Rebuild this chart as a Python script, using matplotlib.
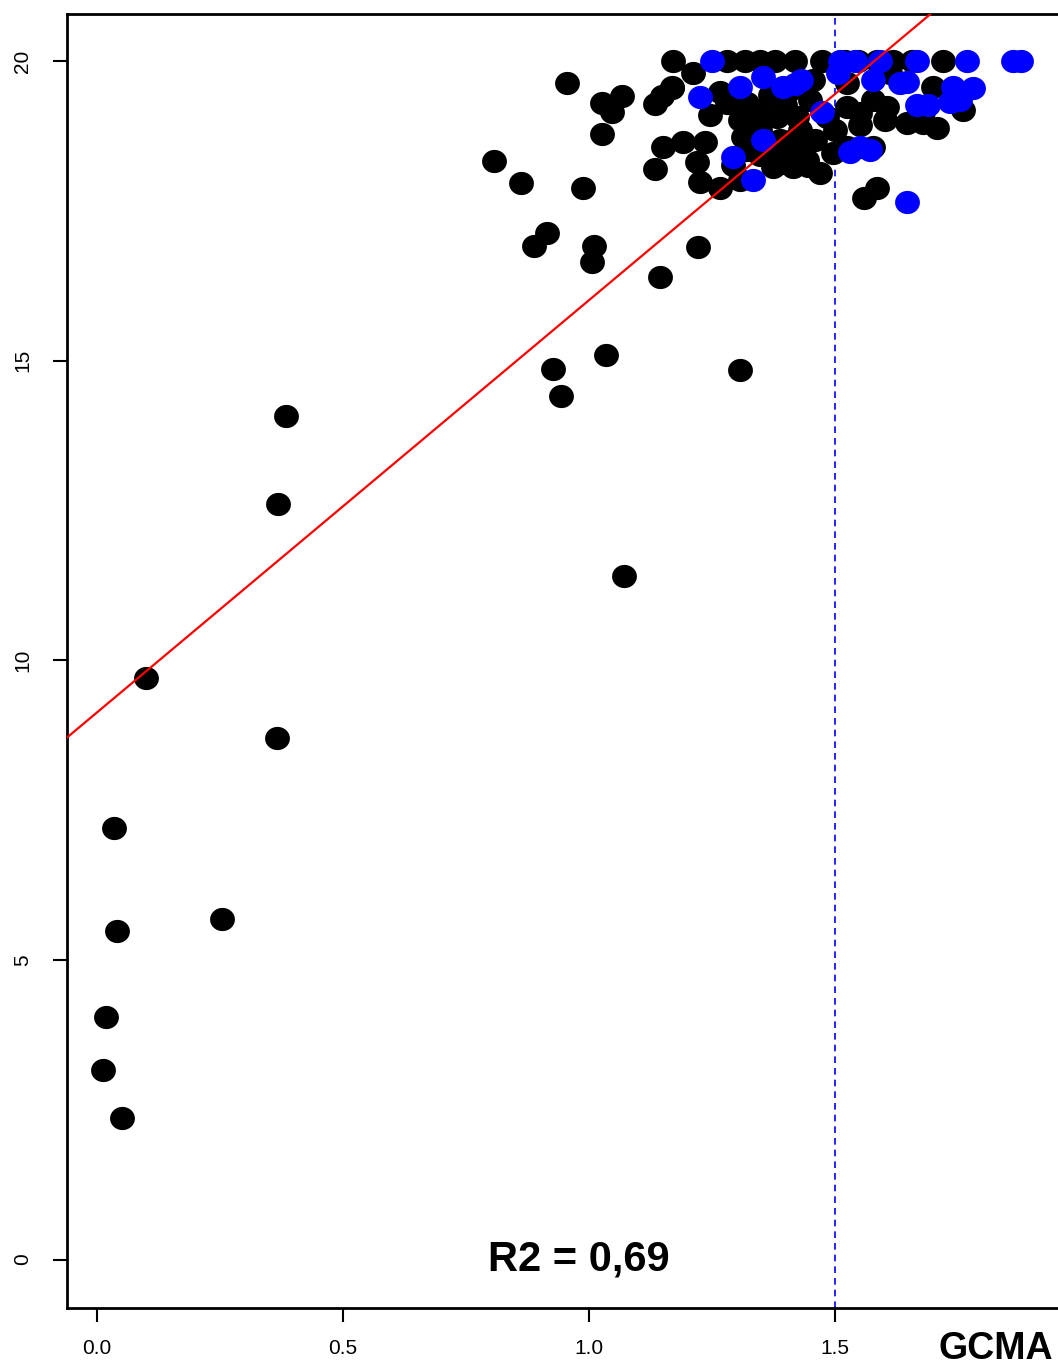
import numpy as np
import matplotlib.pyplot as plt
from matplotlib.path import Path

# GCMA values (x) and response (y), black group
black_x = [0.012, 0.018, 0.051, 0.041, 0.035, 0.100, 0.254, 0.366, 0.368, 0.384,
           1.071, 0.927, 0.943, 1.035, 1.307, 1.144, 1.222, 0.888, 0.915, 1.010,
           1.006, 0.988, 0.862, 0.807, 0.955, 1.026, 1.026, 1.047, 1.067, 1.134,
           1.134, 1.148, 1.169, 1.559, 1.585,
           1.171, 1.280, 1.317, 1.348, 1.378, 1.419, 1.474, 1.520, 1.547, 1.585,
           1.618, 1.657, 1.720,
           1.211, 1.169, 1.266, 1.246, 1.280, 1.321, 1.333, 1.382, 1.423, 1.455,
           1.524, 1.612, 1.699, 1.577, 1.606, 1.679, 1.760, 1.679, 1.707, 1.150,
           1.191, 1.236, 1.313, 1.220, 1.226, 1.266, 1.293, 1.374, 1.415, 1.470,
           1.496, 1.524, 1.577, 1.321, 1.402, 1.429, 1.524, 1.484, 1.551, 1.646,
           1.348, 1.388, 1.429, 1.368, 1.409, 1.348, 1.307, 1.443,
           1.348, 1.398, 1.449, 1.368, 1.415, 1.459, 1.307, 1.500, 1.551, 1.602,
           1.392, 1.445, 1.372]
black_y = [3.17, 4.04, 2.37, 5.48, 7.21, 9.70, 5.68, 8.71, 12.60, 14.07,
           11.40, 14.86, 14.41, 15.09, 14.84, 16.39, 16.89, 16.91, 17.13, 16.91,
           16.64, 17.88, 17.96, 18.33, 19.63, 18.78, 19.30, 19.15, 19.42, 18.20,
           19.28, 19.42, 19.55, 17.71, 17.88,
           20.0, 20.0, 20.0, 20.0, 20.0, 20.0, 20.0, 20.0, 20.0, 20.0,
           20.0, 20.0, 20.0,
           19.80, 19.57, 19.48, 19.10, 19.30, 19.30, 19.07, 19.07, 19.07, 19.68,
           19.63, 19.80, 19.57, 19.35, 19.23, 19.15, 19.18, 18.96, 18.88, 18.56,
           18.65, 18.65, 18.73, 18.31, 17.98, 17.88, 18.26, 18.23, 18.23, 18.13,
           18.46, 18.56, 18.56, 18.51, 18.46, 18.51, 19.23, 19.07, 19.13, 18.96,
           18.85, 18.68, 18.85, 19.43, 19.52, 18.43, 18.01, 18.35,
           19.18, 19.27, 19.35, 18.60, 18.68, 18.68, 19.02, 18.85, 18.93, 19.02,
           18.30, 18.25, 18.40]

# blue group
blue_x = [1.250, 1.354, 1.307, 1.394, 1.226, 1.506, 1.667, 1.768, 1.862, 1.878,
          1.740, 1.780, 1.754, 1.667, 1.474, 1.354, 1.551, 1.571, 1.333, 1.646,
          1.293, 1.577, 1.632, 1.510, 1.541, 1.591, 1.734, 1.646, 1.689, 1.530,
          1.419, 1.431]
blue_y = [20.0, 19.73, 19.57, 19.57, 19.40, 19.80, 20.0, 20.0, 20.0, 20.0,
          19.57, 19.55, 19.35, 19.27, 19.15, 18.68, 18.56, 18.51, 18.01, 17.65,
          18.40, 19.68, 19.63, 20.0, 20.0, 20.0, 19.32, 19.65, 19.27, 18.48,
          19.62, 19.68]

# fitted line
intercept = 9.13
slope = 6.88
cutoff = 1.5
r2_label = "R2 = 0,69"

font = ['Liberation Sans', 'DejaVu Sans']

fig = plt.figure(figsize=(10.58, 13.69), dpi=100)
ax = fig.add_axes([0.0633, 0.0449, 0.9367, 0.9449])

# slightly wide round marker, like the original points
t = np.linspace(0, 2 * np.pi, 60)
dot = Path(np.column_stack([1.07 * np.cos(t), np.sin(t)]), closed=True)

ax.scatter(black_x, black_y, s=320, marker=dot, color="black", linewidths=0, zorder=2)
ax.scatter(blue_x, blue_y, s=320, marker=dot, color="#0000ff", linewidths=0, zorder=3)

ax.axline((0, intercept), slope=slope, color="#ff0000", lw=1.6, zorder=4)
ax.axvline(cutoff, color="#0000ff", lw=1.2, ls=(0, (4, 3)), zorder=1)

ax.text(0.98, 0.0, r2_label, ha="center", va="center", fontsize=30,
        fontweight="bold", family=font)

ax.set_xlim(-0.061, 1.953)
ax.set_ylim(-0.80, 20.785)
ax.set_xticks([0.0, 0.5, 1.0, 1.5])
ax.set_xticklabels(["0.0", "0.5", "1.0", "1.5"])
ax.set_yticks([0, 5, 10, 15, 20])
ax.set_yticklabels(["0", "5", "10", "15", "20"], rotation=90, va="center")

for lab in ax.get_xticklabels() + ax.get_yticklabels():
    lab.set_family(font)
    lab.set_fontsize(15)

ax.tick_params(axis="x", length=10, width=1.5, pad=13)
ax.tick_params(axis="y", length=10, width=1.5, pad=15)

for side in ["left", "bottom", "top"]:
    ax.spines[side].set_linewidth(2)
ax.spines["right"].set_visible(False)

fig.text(0.995, 0.0015, "GCMA", ha="right", va="bottom", fontsize=27,
         fontweight="bold", family=font)

fig.savefig("out.png", dpi=100)
